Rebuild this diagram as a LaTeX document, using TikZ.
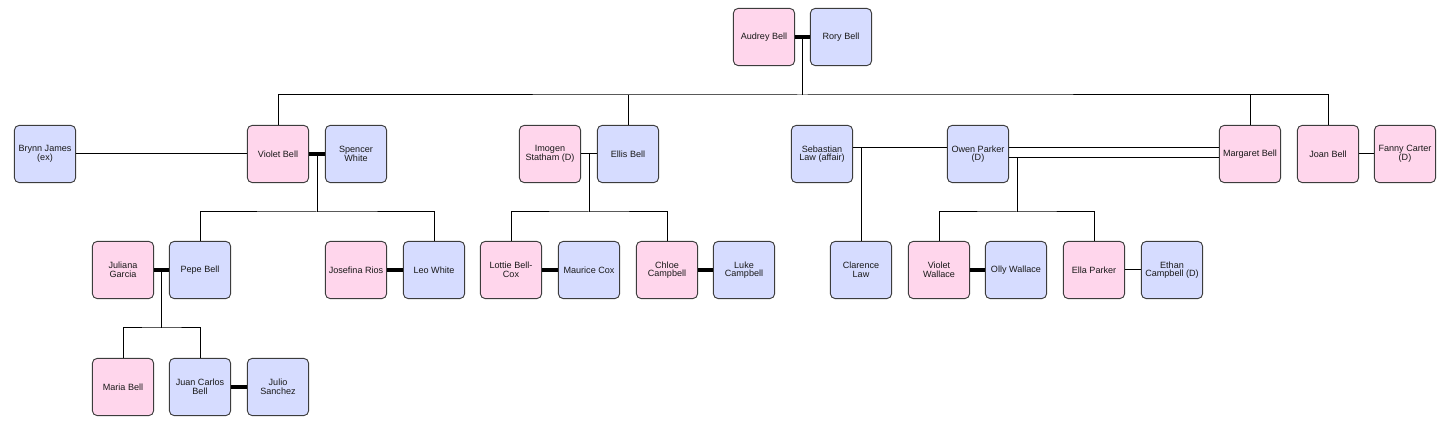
\documentclass[tikz,border=0pt]{standalone}
\usepackage{fontspec}
\setmainfont{Liberation Sans}
\usetikzlibrary{calc}
\definecolor{pinkc}{RGB}{255,214,236}
\definecolor{bluec}{RGB}{214,220,255}
\definecolor{edgec}{RGB}{60,60,60}
\newcommand{\boxfont}{\fontsize{6.8pt}{6.4pt}\selectfont}
\tikzset{
  pbox/.style={draw=edgec, rounded corners=3.75pt, minimum width=46pt, minimum height=43pt,
    align=center, font=\boxfont, line width=0.7pt, inner sep=1pt, text=black!90},
  fem/.style={pbox, fill=pinkc},
  mal/.style={pbox, fill=bluec},
  link/.style={line width=0.75pt, black},
  marr/.style={line width=3pt, black},
}
\begin{document}
\begin{tikzpicture}[x=0.75pt,y=-0.75pt]
\useasboundingbox (0,0) rectangle (1447,423);
% row 1
\node[fem] (audrey) at (764,37) {Audrey Bell};
\node[mal] (rory) at (841,37) {Rory Bell};
% row 2
\node[mal] (brynn) at (45,154) {Brynn James\\(ex)};
\node[fem] (violet) at (278,154) {Violet Bell};
\node[mal] (spencer) at (356,154) {Spencer\\White};
\node[fem] (imogen) at (550,154) {Imogen\\Statham (D)};
\node[mal] (ellis) at (628,154) {Ellis Bell};
\node[mal] (sebastian) at (822,154) {Sebastian\\Law (affair)};
\node[mal] (owen) at (978,154) {Owen Parker\\(D)};
\node[fem] (margaret) at (1250,154) {Margaret Bell};
\node[fem] (joan) at (1328,154) {Joan Bell};
\node[fem] (fanny) at (1405,154) {Fanny Carter\\(D)};
% row 3
\node[fem] (juliana) at (123,270) {Juliana\\Garcia};
\node[mal] (pepe) at (200,270) {Pepe Bell};
\node[fem] (josefina) at (356,270) {Josefina Rios};
\node[mal] (leo) at (434,270) {Leo White};
\node[fem] (lottie) at (511,270) {Lottie Bell-\\Cox};
\node[mal] (maurice) at (589,270) {Maurice Cox};
\node[fem] (chloe) at (667,270) {Chloe\\Campbell};
\node[mal] (luke) at (744,270) {Luke\\Campbell};
\node[mal] (clarence) at (861,270) {Clarence\\Law};
\node[fem] (violetw) at (939,270) {Violet\\Wallace};
\node[mal] (olly) at (1016,270) {Olly Wallace};
\node[fem] (ella) at (1094,270) {Ella Parker};
\node[mal] (ethan) at (1172,270) {Ethan\\Campbell (D)};
% row 4
\node[fem] (maria) at (123,387) {Maria Bell};
\node[mal] (juan) at (200,387) {Juan Carlos\\Bell};
\node[mal] (julio) at (278,387) {Julio\\Sanchez};

% Audrey + Rory
\draw[marr] (audrey.east) -- (rory.west);
\coordinate (m1) at ($(audrey.east)!0.5!(rory.west)$);
\coordinate (b1) at ($(m1)+(0,58)$);
\draw[link] (m1) -- (b1);
\draw[link] (violet.north) |- (b1) -| (joan.north);
\draw[link] (ellis.north) -- (ellis.north |- b1);
\draw[link] (margaret.north) -- (margaret.north |- b1);

% Violet's partners
\draw[link] (brynn.east) -- (violet.west);
\draw[marr] (violet.east) -- (spencer.west);
\coordinate (m2) at ($(violet.east)!0.5!(spencer.west)$);
\coordinate (b2) at ($(m2)+(0,58)$);
\draw[link] (m2) -- (b2);
\draw[link] (pepe.north) |- (b2) -| (leo.north);

% Imogen + Ellis
\draw[link] (imogen.east) -- (ellis.west);
\coordinate (m3) at ($(imogen.east)!0.5!(ellis.west)$);
\coordinate (b3) at ($(m3)+(0,58)$);
\draw[link] (m3) -- (b3);
\draw[link] (lottie.north) |- (b3) -| (chloe.north);

% Sebastian + Owen (affair)
\coordinate (s1) at ($(sebastian.east)+(0,-6)$);
\coordinate (s2) at ($(owen.west)+(0,-6)$);
\draw[link] (s1) -- (s2);
\draw[link] (clarence.north) -- (clarence.north |- s1);

% Owen + Margaret (divorced, double line)
\coordinate (o1) at ($(owen.east)+(0,-6)$);
\coordinate (o2) at ($(margaret.west)+(0,-6)$);
\coordinate (o3) at ($(owen.east)+(0,4)$);
\coordinate (o4) at ($(margaret.west)+(0,4)$);
\draw[link] (o1) -- (o2);
\draw[link] (o3) -- (o4);
\coordinate (m4) at ($(o3)+(8,0)$);
\coordinate (b4) at ($(owen.east)+(8,58)$);
\draw[link] (m4) -- (b4);
\draw[link] (violetw.north) |- (b4) -| (ella.north);

% Joan + Fanny
\draw[link] (joan.east) -- (fanny.west);

% row 3 couples
\draw[marr] (juliana.east) -- (pepe.west);
\coordinate (m5) at ($(juliana.east)!0.5!(pepe.west)$);
\coordinate (b5) at ($(m5)+(0,58)$);
\draw[link] (m5) -- (b5);
\draw[link] (maria.north) |- (b5) -| (juan.north);
\draw[marr] (josefina.east) -- (leo.west);
\draw[marr] (lottie.east) -- (maurice.west);
\draw[marr] (chloe.east) -- (luke.west);
\draw[marr] (violetw.east) -- (olly.west);
\draw[link] (ella.east) -- (ethan.west);
% row 4
\draw[marr] (juan.east) -- (julio.west);
\end{tikzpicture}
\end{document}
